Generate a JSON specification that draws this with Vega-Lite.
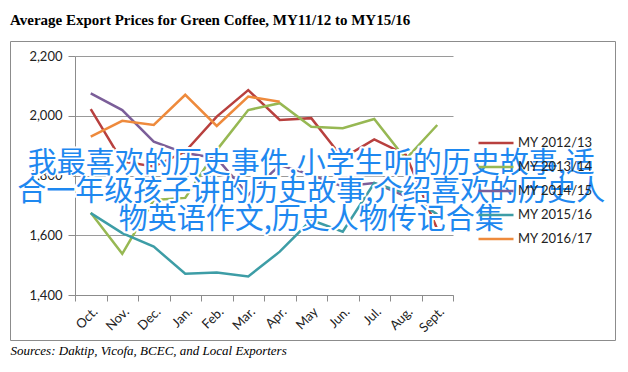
{
  "$schema": "https://vega.github.io/schema/vega-lite/v6.json",
  "width": 605,
  "height": 299,
  "autosize": "none",
  "padding": {"left": 10, "top": 41, "right": 13, "bottom": 32},
  "background": "white",
  "title": {
    "text": "Average Export Prices for Green Coffee, MY11/12 to MY15/16",
    "anchor": "start",
    "frame": "group",
    "font": "Liberation Serif",
    "fontSize": 15,
    "fontWeight": "bold",
    "color": "#000000",
    "baseline": "alphabetic",
    "offset": 1
  },
  "config": {
    "view": {"stroke": "#8c8c8c", "strokeWidth": 1},
    "axis": {
      "labelFont": "Lato",
      "labelFontSize": 13,
      "labelColor": "#222222",
      "domainColor": "#8c8c8c",
      "tickColor": "#8c8c8c"
    }
  },
  "data": {
    "values": [
      {"series": "MY 2012/13", "month": "Oct.", "m": 1, "price": 2022},
      {"series": "MY 2012/13", "month": "Nov.", "m": 2, "price": 1847},
      {"series": "MY 2012/13", "month": "Dec.", "m": 3, "price": 1830},
      {"series": "MY 2012/13", "month": "Jan.", "m": 4, "price": 1880},
      {"series": "MY 2012/13", "month": "Feb.", "m": 5, "price": 1997},
      {"series": "MY 2012/13", "month": "Mar.", "m": 6, "price": 2086},
      {"series": "MY 2012/13", "month": "Apr.", "m": 7, "price": 1986},
      {"series": "MY 2012/13", "month": "May", "m": 8, "price": 1992},
      {"series": "MY 2012/13", "month": "Jun.", "m": 9, "price": 1858},
      {"series": "MY 2012/13", "month": "Jul.", "m": 10, "price": 1921},
      {"series": "MY 2012/13", "month": "Aug.", "m": 11, "price": 1870},
      {"series": "MY 2012/13", "month": "Sept.", "m": 12, "price": 1620},
      {"series": "MY 2013/14", "month": "Oct.", "m": 1, "price": 1675},
      {"series": "MY 2013/14", "month": "Nov.", "m": 2, "price": 1538},
      {"series": "MY 2013/14", "month": "Dec.", "m": 3, "price": 1718},
      {"series": "MY 2013/14", "month": "Jan.", "m": 4, "price": 1725},
      {"series": "MY 2013/14", "month": "Feb.", "m": 5, "price": 1885},
      {"series": "MY 2013/14", "month": "Mar.", "m": 6, "price": 2019},
      {"series": "MY 2013/14", "month": "Apr.", "m": 7, "price": 2042},
      {"series": "MY 2013/14", "month": "May", "m": 8, "price": 1963},
      {"series": "MY 2013/14", "month": "Jun.", "m": 9, "price": 1958},
      {"series": "MY 2013/14", "month": "Jul.", "m": 10, "price": 1989},
      {"series": "MY 2013/14", "month": "Aug.", "m": 11, "price": 1855},
      {"series": "MY 2013/14", "month": "Sept.", "m": 12, "price": 1969},
      {"series": "MY 2014/15", "month": "Oct.", "m": 1, "price": 2075},
      {"series": "MY 2014/15", "month": "Nov.", "m": 2, "price": 2019},
      {"series": "MY 2014/15", "month": "Dec.", "m": 3, "price": 1913},
      {"series": "MY 2014/15", "month": "Jan.", "m": 4, "price": 1875},
      {"series": "MY 2014/15", "month": "Feb.", "m": 5, "price": 1858},
      {"series": "MY 2014/15", "month": "Mar.", "m": 6, "price": 1735},
      {"series": "MY 2014/15", "month": "Apr.", "m": 7, "price": 1835},
      {"series": "MY 2014/15", "month": "May", "m": 8, "price": 1802},
      {"series": "MY 2014/15", "month": "Jun.", "m": 9, "price": 1763},
      {"series": "MY 2014/15", "month": "Jul.", "m": 10, "price": 1775},
      {"series": "MY 2014/15", "month": "Aug.", "m": 11, "price": 1730},
      {"series": "MY 2014/15", "month": "Sept.", "m": 12, "price": 1690},
      {"series": "MY 2015/16", "month": "Oct.", "m": 1, "price": 1674},
      {"series": "MY 2015/16", "month": "Nov.", "m": 2, "price": 1607},
      {"series": "MY 2015/16", "month": "Dec.", "m": 3, "price": 1562},
      {"series": "MY 2015/16", "month": "Jan.", "m": 4, "price": 1471},
      {"series": "MY 2015/16", "month": "Feb.", "m": 5, "price": 1475},
      {"series": "MY 2015/16", "month": "Mar.", "m": 6, "price": 1462},
      {"series": "MY 2015/16", "month": "Apr.", "m": 7, "price": 1545},
      {"series": "MY 2015/16", "month": "May", "m": 8, "price": 1651},
      {"series": "MY 2015/16", "month": "Jun.", "m": 9, "price": 1612},
      {"series": "MY 2015/16", "month": "Jul.", "m": 10, "price": 1775},
      {"series": "MY 2015/16", "month": "Aug.", "m": 11, "price": 1740},
      {"series": "MY 2015/16", "month": "Sept.", "m": 12, "price": 1670},
      {"series": "MY 2016/17", "month": "Oct.", "m": 1, "price": 1930},
      {"series": "MY 2016/17", "month": "Nov.", "m": 2, "price": 1983},
      {"series": "MY 2016/17", "month": "Dec.", "m": 3, "price": 1969},
      {"series": "MY 2016/17", "month": "Jan.", "m": 4, "price": 2070},
      {"series": "MY 2016/17", "month": "Feb.", "m": 5, "price": 1966},
      {"series": "MY 2016/17", "month": "Mar.", "m": 6, "price": 2064},
      {"series": "MY 2016/17", "month": "Apr.", "m": 7, "price": 2047}
    ]
  },
  "layer": [
    {
      "mark": {"type": "line"},
      "encoding": {
        "x": {
          "field": "month",
          "type": "ordinal",
          "bandPosition": 0.5,
          "scale": {
            "type": "band",
            "domain": ["Oct.", "Nov.", "Dec.", "Jan.", "Feb.", "Mar.", "Apr.", "May", "Jun.", "Jul.", "Aug.", "Sept."],
            "range": [65, 443],
            "paddingInner": 0,
            "paddingOuter": 0
          },
          "axis": {
            "offset": -45,
            "labelAngle": -45,
            "tickBand": "extent",
            "tickSize": 6,
            "grid": false,
            "labelPadding": 4,
            "title": "Sources: Daktip, Vicofa, BCEC, and Local Exporters",
            "titleFont": "Liberation Serif",
            "titleFontStyle": "italic",
            "titleFontWeight": "normal",
            "titleFontSize": 13,
            "titleColor": "#000000",
            "titleAlign": "left",
            "titleAnchor": "start",
            "titleBaseline": "alphabetic",
            "titleX": 0,
            "titleY": 59
          }
        },
        "y": {
          "field": "price",
          "type": "quantitative",
          "scale": {"domain": [1400, 2200], "range": [254, 15], "nice": false, "zero": false},
          "axis": {
            "offset": -65,
            "values": [1400, 1500, 1600, 1700, 1800, 1900, 2000, 2100, 2200],
            "format": ",d",
            "tickSize": 7,
            "labelPadding": 6,
            "grid": true,
            "gridColor": "#9a9a9a",
            "title": null
          }
        },
        "order": {"field": "m", "type": "quantitative"},
        "color": {
          "field": "series",
          "type": "nominal",
          "scale": {
            "domain": ["MY 2012/13", "MY 2013/14", "MY 2014/15", "MY 2015/16", "MY 2016/17"],
            "range": ["#B8403E", "#97B853", "#7B5E99", "#3D9DA6", "#EE8A3C"]
          },
          "legend": {
            "orient": "none",
            "legendX": 467,
            "legendY": 90,
            "title": null,
            "symbolType": "stroke",
            "symbolSize": 1225,
            "clipHeight": 24,
            "rowPadding": 0,
            "labelFont": "Lato",
            "labelFontSize": 13,
            "labelColor": "#222222",
            "labelOffset": 3
          }
        },
        "strokeWidth": {
          "field": "series",
          "type": "nominal",
          "scale": {
            "domain": ["MY 2012/13", "MY 2013/14", "MY 2014/15", "MY 2015/16", "MY 2016/17"],
            "range": [2.5, 2.5, 2.5, 2.5, 6]
          },
          "legend": {
            "orient": "none",
            "legendX": 467,
            "legendY": 90,
            "title": null,
            "symbolType": "stroke",
            "symbolSize": 1225,
            "clipHeight": 24,
            "rowPadding": 0,
            "labelFont": "Lato",
            "labelFontSize": 13,
            "labelColor": "#222222",
            "labelOffset": 3
          }
        }
      }
    },
    {
      "data": {"values": [{}]},
      "mark": {
        "type": "text",
        "text": ["我最喜欢的历史事件,小学生听的历史故事,适", "合一年级孩子讲的历史故事,介绍喜欢的历史人", "物英语作文,历史人物传记合集"],
        "font": "Noto Sans CJK SC",
        "fontSize": 29,
        "lineHeight": 28,
        "align": "center",
        "baseline": "middle",
        "fill": "#1E88F0",
        "stroke": "white",
        "strokeWidth": 4,
        "strokeJoin": "round"
      },
      "encoding": {
        "x": {"datum": "May"},
        "y": {"datum": 1840}
      }
    },
    {
      "data": {"values": [{}]},
      "mark": {
        "type": "text",
        "text": ["我最喜欢的历史事件,小学生听的历史故事,适", "合一年级孩子讲的历史故事,介绍喜欢的历史人", "物英语作文,历史人物传记合集"],
        "font": "Noto Sans CJK SC",
        "fontSize": 29,
        "lineHeight": 28,
        "align": "center",
        "baseline": "middle",
        "fill": "#1E88F0"
      },
      "encoding": {
        "x": {"datum": "May"},
        "y": {"datum": 1840}
      }
    }
  ]
}
